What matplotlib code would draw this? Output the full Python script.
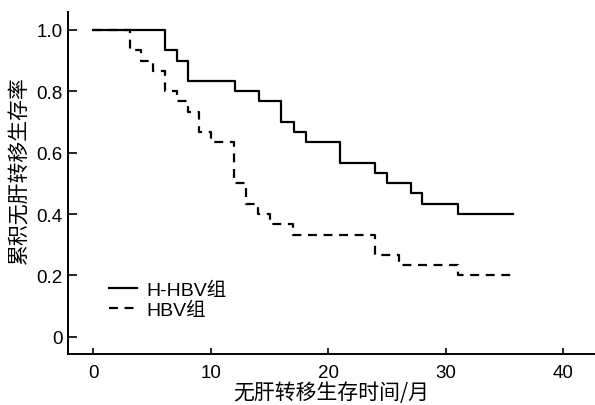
import matplotlib
matplotlib.use("Agg")
import matplotlib.pyplot as plt

# data (months, cumulative survival)
hhbv_t = [0, 6.1, 7.1, 8.1, 12.1, 14.1, 16.0, 17.1, 18.1, 21.0, 24.0, 25.0, 27.0, 28.0, 31.0, 35.7]
hhbv_s = [1.0, 0.933, 0.9, 0.833, 0.8, 0.767, 0.7, 0.667, 0.633, 0.567, 0.533, 0.5, 0.467, 0.433, 0.4, 0.4]

hbv_t = [0, 3.1, 4.1, 5.1, 6.1, 7.1, 8.1, 9.0, 10.0, 12.0, 13.0, 14.0, 15.0, 17.0, 24.0, 26.0, 31.0, 35.7]
hbv_s = [1.0, 0.933, 0.9, 0.867, 0.8, 0.767, 0.733, 0.667, 0.633, 0.5, 0.433, 0.4, 0.367, 0.333, 0.267, 0.233, 0.2, 0.2]

x_ticks = [0, 10, 20, 30, 40]
y_ticks = [0, 0.2, 0.4, 0.6, 0.8, 1.0]
y_ticklabels = ["0", "0.2", "0.4", "0.6", "0.8", "1.0"]

plt.rcParams["font.family"] = ["Liberation Sans", "Noto Sans CJK SC"]

fig = plt.figure(figsize=(5.95, 4.06), dpi=100)
ax = fig.add_axes([68 / 595, 51 / 406, 527 / 595, 342 / 406])

ax.step(hhbv_t, hhbv_s, where="post", color="black", lw=1.6, label="H-HBV组")
ax.step(hbv_t, hbv_s, where="post", color="black", lw=1.6, ls=(0, (4, 3)), label="HBV组")

ax.set_xlim(-2.15, 42.7)
ax.set_ylim(-0.056, 1.058)
ax.set_xticks(x_ticks)
ax.set_yticks(y_ticks)
ax.set_yticklabels(y_ticklabels)

for s in ["top", "right"]:
    ax.spines[s].set_visible(False)
for s in ["left", "bottom"]:
    ax.spines[s].set_linewidth(1.4)

ax.tick_params(direction="in", width=1.2, labelsize=13.5)
ax.tick_params(axis="y", length=6.5, pad=4)
ax.tick_params(axis="x", length=4, pad=7)

ax.set_xlabel("无肝转移生存时间/月", family="Noto Sans CJK SC", fontsize=15, labelpad=0)
ax.set_ylabel("累积无肝转移生存率", family="Noto Sans CJK SC", fontsize=15)
ax.yaxis.set_label_coords(-0.072, 0.54)

ax.legend(loc="upper left", bbox_to_anchor=(0.06, 0.24), frameon=False,
          fontsize=14, handlelength=1.4, handletextpad=0.5, labelspacing=0.1,
          borderpad=0)

fig.savefig("out.png", dpi=100)
